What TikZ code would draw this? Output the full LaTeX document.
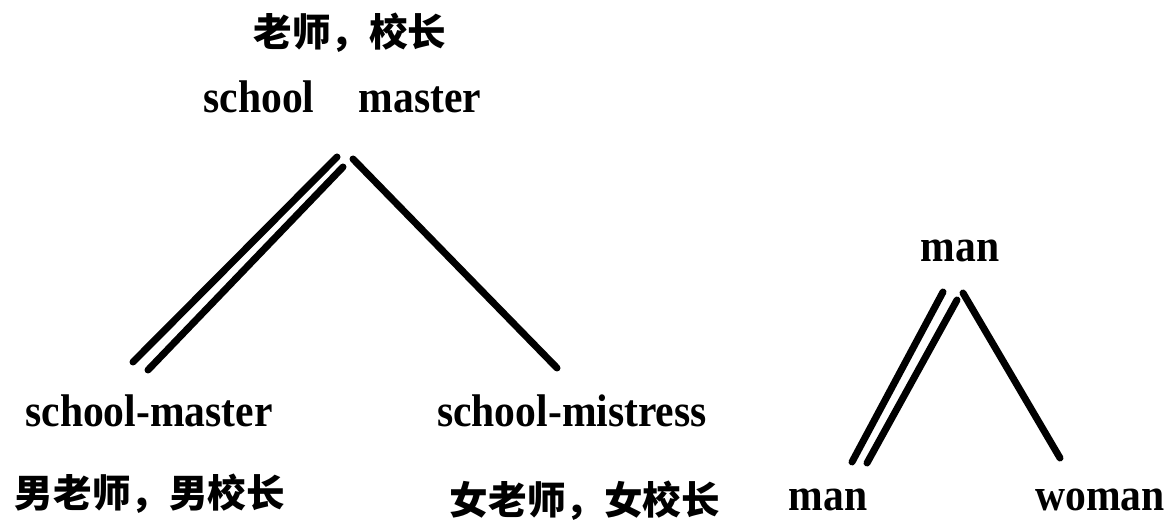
\documentclass[tikz,border=0pt]{standalone}
\usepackage{fontspec}
\setmainfont{Liberation Serif}
\newfontfamily\cjkfont{Noto Sans CJK SC}
\begin{document}
\begin{tikzpicture}[x=0.5pt,y=-0.5pt,
  en/.style={inner sep=0pt,anchor=base,yscale=1.1,font=\fontsize{20.8}{24}\selectfont\bfseries},
  zh/.style={inner sep=0pt,anchor=center,font=\fontsize{19.3}{22}\selectfont\cjkfont\bfseries},
  branch/.style={line width=3.5pt,line cap=round}]
\useasboundingbox (0,0) rectangle (1176,528);
% left tree labels
\node[zh] (topzh) at (350,33) {老师，校长};
\node[en] (school) at (259,113) {school};
\node[en] (master) at (420,113) {master};
\node[en] (sm) at (149,427) {school-master};
\node[en] (smi) at (572,427) {school-mistress};
\node[zh] (lzh) at (150,494) {男老师，男校长};
\node[zh] (rzh) at (585,501) {女老师，女校长};
% right tree labels
\node[en] (mantop) at (960,262) {man};
\node[en] (manbot) at (828,510) {man};
\node[en] (woman) at (1100,510) {woman};
% left tree branches
\coordinate (la1) at (337,157);
\coordinate (lb1) at (133,362);
\coordinate (la2) at (343,167);
\coordinate (lb2) at (148,370);
\coordinate (la3) at (353,159);
\coordinate (lb3) at (557,368);
\draw[branch] (la1) -- (lb1);
\draw[branch] (la2) -- (lb2);
\draw[branch] (la3) -- (lb3);
% right tree branches
\coordinate (ra1) at (943,292);
\coordinate (rb1) at (852,462);
\coordinate (ra2) at (957,300);
\coordinate (rb2) at (867,463);
\coordinate (ra3) at (963,293);
\coordinate (rb3) at (1060,458);
\draw[branch] (ra1) -- (rb1);
\draw[branch] (ra2) -- (rb2);
\draw[branch] (ra3) -- (rb3);
\end{tikzpicture}
\end{document}
